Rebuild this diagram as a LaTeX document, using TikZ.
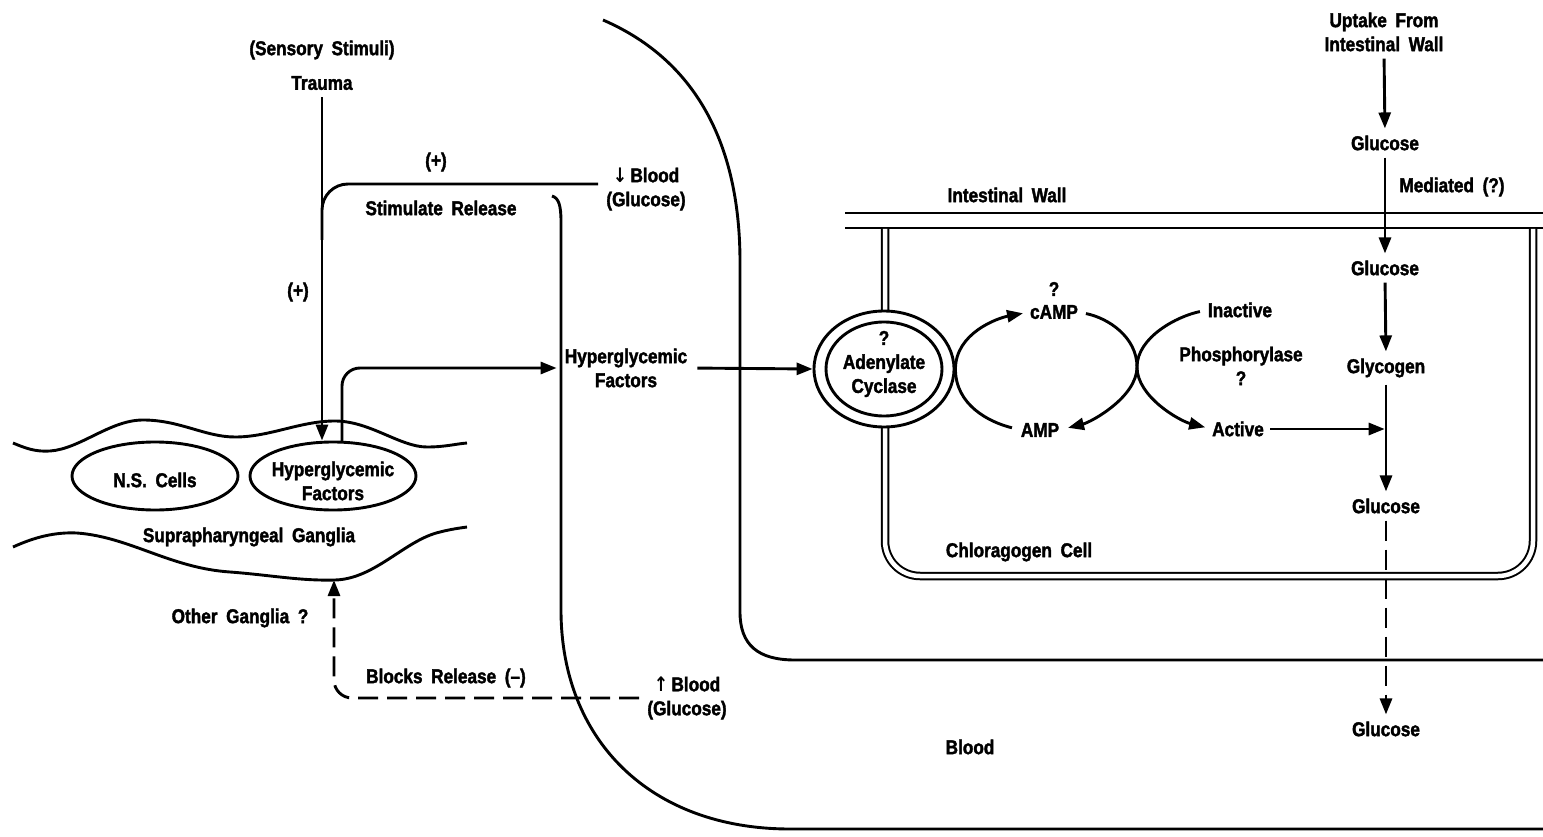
\documentclass[tikz,border=0pt]{standalone}
\usepackage{fontspec}
\setmainfont{Liberation Sans}[FakeStretch=0.86, WordSpace=1.8, BoldFont={Liberation Sans Bold}, BoldFeatures={FakeBold=1.8}]
\newfontfamily\djv{DejaVu Sans}[FakeStretch=0.86]
\usetikzlibrary{arrows.meta,shapes.geometric}
\begin{document}
\begin{tikzpicture}[x=1pt,y=-1pt,
 every node/.style={font=\fontsize{20}{24}\selectfont\bfseries, inner sep=0pt, align=center},
 ln/.style={line width=2.9pt},
 ahead/.style={-{Triangle[length=16pt,width=12pt]}},
 arr/.style={ln,ahead},
 sgap/.style={shorten <=7pt, shorten >=7pt},
 dsh/.style={ln,dash pattern=on 20pt off 9pt},
 cellwall/.style={line width=2pt,double,double distance=4.5pt},
 oval/.style={draw,ln,ellipse}]
\useasboundingbox (0,0) rectangle (1543,837);

% ---- body outlines
\draw[ln] (603,20) .. controls (700,62) and (740,150) .. (740,262) -- (740,612) .. controls (740,645) and (758,660) .. (795,660) -- (1543,660);
\draw[ln] (552,196) .. controls (559,198) and (561,206) .. (561,222) -- (561,610) .. controls (561,740) and (650,829) .. (790,829) -- (1543,829);

% ---- intestinal wall and chloragogen cell
\draw[line width=2.4pt] (845,213) -- (1543,213);
\draw[line width=2.4pt] (845,228) -- (1543,228);
\draw[cellwall, rounded corners=35pt] (885,229) -- (885,576) -- (1533,576) -- (1533,229);

% ---- ganglia
\draw[ln] (13,443) .. controls (25,448) and (35,452) .. (50,451) .. controls (80,449) and (110,420) .. (143,420) .. controls (180,420) and (205,437) .. (235,437) .. controls (270,437) and (300,421) .. (335,421) .. controls (370,421) and (400,447) .. (427,447) .. controls (445,447) and (455,444) .. (467,443);
\draw[ln] (13,547) .. controls (35,537) and (55,532) .. (77,533) .. controls (130,537) and (170,568) .. (230,572) .. controls (270,575) and (300,581) .. (335,580) .. controls (375,579) and (405,540) .. (440,532) .. controls (452,529) and (460,528) .. (467,527);

\node[oval, minimum width=166pt, minimum height=68pt] (ns) at (155,476) {};
\node (nsT) at (155,480) {N.S. Cells};
\node[oval, minimum width=166pt, minimum height=68pt] (hyp) at (333,476) {};
\node (hypT) at (333,481) {Hyperglycemic\\Factors};
\node (supra) at (249,537) {Suprapharyngeal Ganglia};
\node (other) at (240,618) {Other Ganglia ?};

% ---- left texts
\node (sens) at (322,50) {(Sensory Stimuli)};
\node (trauma) at (322,83) {Trauma};
\node (plusA) at (436,162) {(+)};
\node (plusB) at (298,292) {(+)};
\node (stim) at (441,208) {Stimulate Release};
\node (bloodD) at (646,189) {{\djv ↓}\,Blood\\(Glucose)};
\node (blocks) at (446,678) {Blocks Release (–)};
\node (bloodU) at (687,698) {{\djv ↑}\,Blood\\(Glucose)};
\node (hf) at (626,368) {Hyperglycemic\\Factors};

% ---- adenylate cyclase
\node[oval, minimum width=140pt, minimum height=116pt, fill=white] (ac) at (884,369) {};
\node[oval, minimum width=116pt, minimum height=94pt] (acin) at (884,369) {};
\node (acT) at (884,364) {?\\Adenylate\\Cyclase};

\node (q1) at (1054,289) {?};
\node (camp) at (1054,312) {cAMP};
\node (amp) at (1040,430) {AMP};
\node (inact) at (1240,310) {Inactive};
\node (phos) at (1241,366) {Phosphorylase\\?};
\node (act) at (1238,429) {Active};

% ---- right column
\node (upt) at (1384,32) {Uptake From\\Intestinal Wall};
\node (g1) at (1385,143) {Glucose};
\node (med) at (1452,187) {Mediated (?)};
\node (g2) at (1385,268) {Glucose};
\node (gly) at (1386,368) {Glycogen};
\node (g3) at (1386,506) {Glucose};
\node (g4) at (1386,729) {Glucose};
\node (wall) at (1007,195) {Intestinal Wall};
\node (chl) at (1019,552) {Chloragogen Cell};
\node (blood) at (970,747) {Blood};

% ---- coordinates
\coordinate (sj) at (322,240);
\coordinate (bdl) at (598,184);
\coordinate (hypout) at (342,442);
\coordinate (lwc) at (334,580);
\coordinate (lt) at (1137,367);

% ---- connectors
\draw[arr, shorten <=7pt] (trauma.south) -- (trauma.south |- hyp.north);
\draw[ln, rounded corners=26pt] (sj) |- (bdl);
\draw[arr, rounded corners=18pt, shorten >=8pt] (hypout) |- (hf.west);
\draw[arr, shorten <=10pt] (hf.east) -- (ac.west);
\draw[dsh, ahead, rounded corners=18pt, shorten <=8pt] (bloodU.west) -| (lwc);

\draw[arr, shorten >=7pt] (ac.east) .. controls +(0,-36) and +(-32,6) .. (camp.west);
\draw[ln, shorten >=9pt] (ac.east) .. controls +(0,36) and +(-32,-8) .. (amp.west);
\draw[arr, shorten <=8pt, shorten >=9pt] (camp.east) .. controls +(30,6) and +(0,-30) .. (lt) .. controls +(0,30) and +(32,-8) .. (amp.east);
\draw[arr, shorten <=8pt, shorten >=7pt] (inact.west) .. controls +(-30,6) and +(0,-30) .. (lt) .. controls +(0,30) and +(-32,-8) .. (act.west);
\draw[arr, shorten <=6pt, shorten >=1.3pt] (act.east) -- (act.east -| gly);

\draw[arr, sgap] (upt.south) -- (g1.north);
\draw[arr, sgap] (g1.south) -- (g2.north);
\draw[arr, sgap] (g2.south) -- (gly.north);
\draw[arr, sgap] (gly.south) -- (g3.north);
\draw[dsh, ahead, sgap] (g3.south) -- (g4.north);
\end{tikzpicture}
\end{document}
